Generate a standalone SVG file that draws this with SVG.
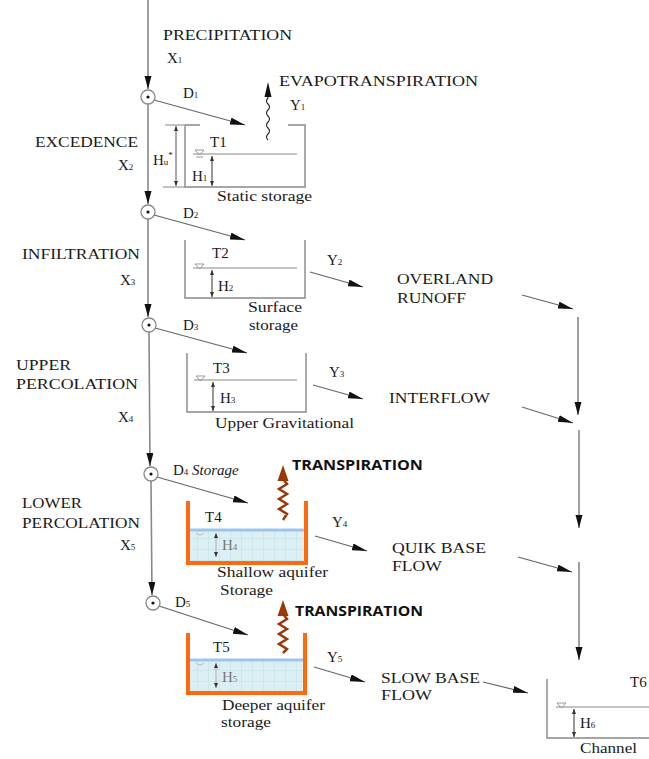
<svg xmlns="http://www.w3.org/2000/svg" width="649" height="759" viewBox="0 0 649 759">
<style>
.t{font-family:"Liberation Serif","DejaVu Serif",serif;font-size:15px;fill:#1a1a1a}
.s{font-family:"Liberation Serif","DejaVu Serif",serif;font-size:14px;fill:#1a1a1a}
.sub{font-size:9px}
.g{fill:#777}
.tr{font-family:"Open Sans","Liberation Sans",sans-serif;font-weight:bold;font-size:15px;fill:#111}
.ln{stroke:#666;stroke-width:1.2;fill:none}
.mn{stroke:#888;stroke-width:1.6;fill:none}
.box{stroke:#888;stroke-width:1.4;fill:none}
.ob{stroke:#ff6a10;stroke-width:4;fill:none}
.wl{stroke:#888;stroke-width:1.1}
.bw{stroke:#9cc5ec;stroke-width:3}
.circ{stroke:#888;stroke-width:1.3;fill:#fff}
.brn{stroke:#9a3806;stroke-width:2.5;fill:none}
</style>
<defs>
<marker id="ah" markerUnits="userSpaceOnUse" markerWidth="16" markerHeight="8" refX="15" refY="3.5" orient="auto"><path d="M0,0 L15,3.5 L0,7 z" fill="#111"/></marker>
<marker id="av" markerUnits="userSpaceOnUse" markerWidth="14" markerHeight="8" refX="13" refY="3.5" orient="auto"><path d="M0,0 L13,3.5 L0,7 z" fill="#111"/></marker>
<marker id="sm" markerUnits="userSpaceOnUse" markerWidth="6" markerHeight="4" refX="5" refY="2" orient="auto-start-reverse"><path d="M0,0 L5,2 L0,4 z" fill="#333"/></marker>
<pattern id="grid" patternUnits="userSpaceOnUse" width="11" height="11"><rect width="11" height="11" fill="#dcf0f3"/><path d="M11,0 V11 M0,11 H11" stroke="#b6dbe2" stroke-width="0.8"/></pattern>
</defs>

<g id="connectors">
<line class="mn" x1="148" y1="0" x2="148" y2="89" marker-end="url(#av)"/>
<line class="mn" x1="148" y1="104" x2="148" y2="204" marker-end="url(#av)"/>
<line class="mn" x1="148" y1="219" x2="148" y2="317" marker-end="url(#av)"/>
<line class="mn" x1="149" y1="332" x2="150" y2="466" marker-end="url(#av)"/>
<line class="mn" x1="151" y1="481" x2="152" y2="595" marker-end="url(#av)"/>
<line class="ln" x1="154" y1="100" x2="245" y2="125" marker-end="url(#ah)"/>
<line class="ln" x1="154" y1="215" x2="245" y2="240" marker-end="url(#ah)"/>
<line class="ln" x1="155" y1="328" x2="247" y2="353" marker-end="url(#ah)"/>
<line class="ln" x1="157" y1="477" x2="248" y2="503" marker-end="url(#ah)"/>
<line class="ln" x1="159" y1="606" x2="248" y2="635" marker-end="url(#ah)"/>
<line class="ln" x1="310" y1="272" x2="363" y2="287" marker-end="url(#ah)"/>
<line class="ln" x1="313" y1="385" x2="363" y2="399" marker-end="url(#ah)"/>
<line class="ln" x1="315" y1="536" x2="367" y2="551" marker-end="url(#ah)"/>
<line class="ln" x1="314" y1="667" x2="365" y2="682" marker-end="url(#ah)"/>
<line class="ln" x1="522" y1="295" x2="573" y2="309" marker-end="url(#ah)"/>
<line class="ln" x1="522" y1="407" x2="573" y2="423" marker-end="url(#ah)"/>
<line class="ln" x1="518" y1="557" x2="572" y2="572" marker-end="url(#ah)"/>
<line class="ln" x1="483" y1="682" x2="528" y2="693" marker-end="url(#ah)"/>
<line class="mn" x1="578" y1="317" x2="578" y2="415" marker-end="url(#av)"/>
<line class="mn" x1="579" y1="430" x2="579" y2="528" marker-end="url(#av)"/>
<line class="mn" x1="579" y1="562" x2="579" y2="660" marker-end="url(#av)"/>
</g>

<g id="junctions">
<g id="d1"><circle class="circ" cx="148" cy="97" r="7"/><circle cx="148" cy="97" r="1.6" fill="#111"/><text class="t" x="183" y="98">D<tspan class="sub">1</tspan></text></g>
<g id="d2"><circle class="circ" cx="148" cy="212" r="7"/><circle cx="148" cy="212" r="1.6" fill="#111"/><text class="t" x="183" y="218">D<tspan class="sub">2</tspan></text></g>
<g id="d3"><circle class="circ" cx="149" cy="325" r="7"/><circle cx="149" cy="325" r="1.6" fill="#111"/><text class="t" x="183" y="330">D<tspan class="sub">3</tspan></text></g>
<g id="d4"><circle class="circ" cx="151" cy="474" r="7"/><circle cx="151" cy="474" r="1.6" fill="#111"/><text class="t" x="173" y="475">D<tspan class="sub">4</tspan> <tspan font-style="italic">Storage</tspan></text></g>
<g id="d5"><circle class="circ" cx="153" cy="603" r="7"/><circle cx="153" cy="603" r="1.6" fill="#111"/><text class="t" x="175" y="607">D<tspan class="sub">5</tspan></text></g>
</g>

<g id="flow-labels">
<text class="t" x="163" y="40" textLength="129" lengthAdjust="spacingAndGlyphs">PRECIPITATION</text>
<text class="t" x="167" y="63">X<tspan class="sub">1</tspan></text>
<text class="t" x="35" y="147" textLength="103" lengthAdjust="spacingAndGlyphs">EXCEDENCE</text>
<text class="t" x="118" y="170">X<tspan class="sub">2</tspan></text>
<text class="t" x="22" y="259" textLength="118" lengthAdjust="spacingAndGlyphs">INFILTRATION</text>
<text class="t" x="120" y="285">X<tspan class="sub">3</tspan></text>
<text class="t" x="16" y="370" textLength="55" lengthAdjust="spacingAndGlyphs">UPPER</text>
<text class="t" x="16" y="389" textLength="122" lengthAdjust="spacingAndGlyphs">PERCOLATION</text>
<text class="t" x="118" y="422">X<tspan class="sub">4</tspan></text>
<text class="t" x="22" y="508" textLength="60" lengthAdjust="spacingAndGlyphs">LOWER</text>
<text class="t" x="22" y="528" textLength="118" lengthAdjust="spacingAndGlyphs">PERCOLATION</text>
<text class="t" x="120" y="550">X<tspan class="sub">5</tspan></text>
<text class="t" x="327" y="265">Y<tspan class="sub">2</tspan></text>
<text class="t" x="329" y="377">Y<tspan class="sub">3</tspan></text>
<text class="t" x="332" y="527">Y<tspan class="sub">4</tspan></text>
<text class="t" x="327" y="662">Y<tspan class="sub">5</tspan></text>
</g>

<g id="t1">
<path class="box" d="M200,125 H185 V187 H305 V125 H288"/>
<line class="wl" x1="193" y1="154" x2="297" y2="154"/>
<path d="M195,150 H204 L199.5,155 Z M196,157 H203" stroke="#999" stroke-width="1" fill="none"/>
<line x1="212" y1="156" x2="212" y2="186" stroke="#333" stroke-width="1" marker-start="url(#sm)" marker-end="url(#sm)"/>
<line x1="176" y1="126" x2="176" y2="186" stroke="#555" stroke-width="1" marker-start="url(#sm)" marker-end="url(#sm)"/>
<path d="M165,125 H184 M163,187 H185" stroke="#888" stroke-width="1"/>
<text class="t" x="153" y="165">H<tspan class="sub">u</tspan><tspan class="sub" dy="-7">*</tspan></text>
<text class="t" x="210" y="147">T1</text>
<text class="t" x="192" y="181">H<tspan class="sub">1</tspan></text>
<text class="s" x="217" y="201" textLength="95" lengthAdjust="spacingAndGlyphs">Static storage</text>
</g>

<g id="evapotranspiration">
<path d="M268,140 q-3,-3 0,-6 q3,-3 0,-6 q-3,-3 0,-6 q3,-3 0,-6 q-3,-3 0,-6 q3,-3 0,-6 q-3,-3 0,-6 L268,96" stroke="#222" stroke-width="1.1" fill="none"/>
<path d="M268,82 L264.5,97 L271.5,97 Z" fill="#111"/>
<text class="t" x="279" y="86" textLength="199" lengthAdjust="spacingAndGlyphs">EVAPOTRANSPIRATION</text>
<text class="t" x="290" y="110">Y<tspan class="sub">1</tspan></text>
</g>

<g id="t2">
<path class="box" d="M185,240 V298 H305 V240"/>
<line class="wl" x1="193" y1="268" x2="297" y2="268"/>
<path d="M195,264 H204 L199.5,269 Z" stroke="#999" stroke-width="1" fill="none"/>
<line x1="212" y1="270" x2="212" y2="297" stroke="#333" stroke-width="1" marker-start="url(#sm)" marker-end="url(#sm)"/>
<text class="t" x="212" y="258">T2</text>
<text class="t" x="218" y="291">H<tspan class="sub">2</tspan></text>
<text class="s" x="248" y="312" textLength="54" lengthAdjust="spacingAndGlyphs">Surface</text>
<text class="s" x="249" y="330" textLength="49" lengthAdjust="spacingAndGlyphs">storage</text>
</g>

<g id="t3">
<path class="box" d="M187,353 V412 H306 V353"/>
<line class="wl" x1="194" y1="380" x2="297" y2="380"/>
<path d="M196,376 H205 L200.5,381 Z" stroke="#999" stroke-width="1" fill="none"/>
<line x1="213" y1="382" x2="213" y2="411" stroke="#333" stroke-width="1" marker-start="url(#sm)" marker-end="url(#sm)"/>
<text class="t" x="213" y="373">T3</text>
<text class="t" x="220" y="403">H<tspan class="sub">3</tspan></text>
<text class="s" x="215" y="428" textLength="139" lengthAdjust="spacingAndGlyphs">Upper Gravitational</text>
</g>

<g id="t4">
<rect x="190" y="530" width="114" height="31" fill="url(#grid)"/>
<line class="bw" x1="190" y1="530" x2="304" y2="530"/>
<path class="ob" d="M188,501 V563 H306 V501"/>
<path d="M196,533 q4,4 8,0" stroke="#bbb" stroke-width="1" fill="none"/>
<line x1="216" y1="533" x2="216" y2="557" stroke="#999" stroke-width="0.8" marker-start="url(#sm)" marker-end="url(#sm)"/>
<text class="t" x="205" y="522">T4</text>
<text class="t g" x="222" y="550">H<tspan class="sub">4</tspan></text>
<text class="s" x="217" y="577" textLength="111" lengthAdjust="spacingAndGlyphs">Shallow aquifer</text>
<text class="s" x="220" y="595" textLength="53" lengthAdjust="spacingAndGlyphs">Storage</text>
</g>

<g id="transpiration1">
<polyline class="brn" points="283,479 287,484 279,489 287,494 279,499 287,504 279,509 287,514 283,520"/>
<path d="M283,465 L277.5,481 L288.5,481 Z" fill="#9a3806"/>
<text class="tr" x="292" y="470" textLength="131" lengthAdjust="spacingAndGlyphs">TRANSPIRATION</text>
</g>

<g id="t5">
<rect x="190" y="660" width="113" height="31" fill="url(#grid)"/>
<line class="bw" x1="190" y1="660" x2="303" y2="660"/>
<path class="ob" d="M188,633 V693 H305 V633"/>
<path d="M196,663 q4,4 8,0" stroke="#bbb" stroke-width="1" fill="none"/>
<line x1="216" y1="663" x2="216" y2="688" stroke="#999" stroke-width="0.8" marker-start="url(#sm)" marker-end="url(#sm)"/>
<text class="t" x="213" y="652">T5</text>
<text class="t g" x="222" y="682">H<tspan class="sub">5</tspan></text>
<text class="s" x="222" y="710" textLength="103" lengthAdjust="spacingAndGlyphs">Deeper aquifer</text>
<text class="s" x="221" y="727" textLength="50" lengthAdjust="spacingAndGlyphs">storage</text>
</g>

<g id="transpiration2">
<polyline class="brn" points="283,614 287,619 279,624 287,629 279,634 287,639 279,644 287,649 283,653"/>
<path d="M283,600 L277.5,616 L288.5,616 Z" fill="#9a3806"/>
<text class="tr" x="295" y="616" textLength="128" lengthAdjust="spacingAndGlyphs">TRANSPIRATION</text>
</g>

<g id="overland-runoff">
<text class="t" x="397" y="284" textLength="96" lengthAdjust="spacingAndGlyphs">OVERLAND</text>
<text class="t" x="397" y="303" textLength="69" lengthAdjust="spacingAndGlyphs">RUNOFF</text>
</g>
<g id="interflow">
<text class="t" x="389" y="403" textLength="101" lengthAdjust="spacingAndGlyphs">INTERFLOW</text>
</g>
<g id="quick-base-flow">
<text class="t" x="392" y="553" textLength="94" lengthAdjust="spacingAndGlyphs">QUIK BASE</text>
<text class="t" x="392" y="571" textLength="50" lengthAdjust="spacingAndGlyphs">FLOW</text>
</g>
<g id="slow-base-flow">
<text class="t" x="381" y="683" textLength="99" lengthAdjust="spacingAndGlyphs">SLOW BASE</text>
<text class="t" x="381" y="700" textLength="51" lengthAdjust="spacingAndGlyphs">FLOW</text>
</g>

<g id="channel">
<path class="box" d="M547,679 V738 H649"/>
<line class="wl" x1="556" y1="707" x2="649" y2="707"/>
<path d="M557,703 H566 L561.5,708 Z" stroke="#999" stroke-width="1" fill="none"/>
<line x1="574" y1="709" x2="574" y2="737" stroke="#333" stroke-width="1" marker-start="url(#sm)" marker-end="url(#sm)"/>
<text class="t" x="630" y="687">T6</text>
<text class="t" x="580" y="728">H<tspan class="sub">6</tspan></text>
<text class="s" x="580" y="753" textLength="57" lengthAdjust="spacingAndGlyphs">Channel</text>
</g>
</svg>
